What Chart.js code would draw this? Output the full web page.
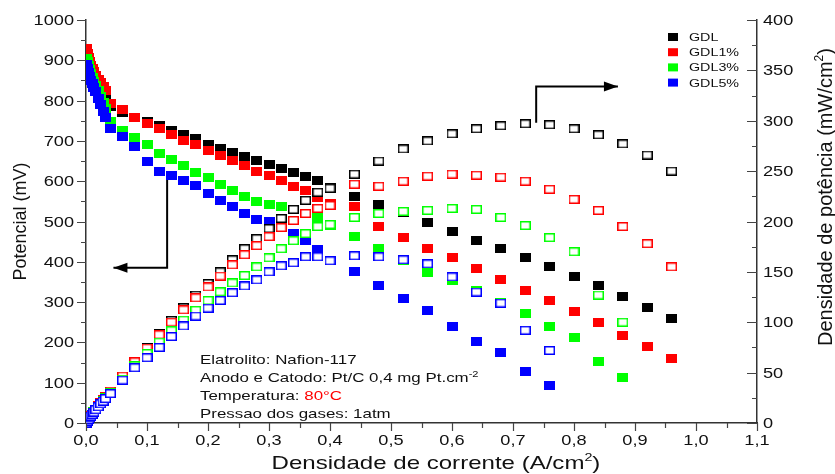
<!DOCTYPE html>
<html>
<head>
<meta charset="utf-8">
<script src="https://cdn.jsdelivr.net/npm/chart.js@4.4.0/dist/chart.umd.min.js"></script>
<style>
  html, body { margin: 0; padding: 0; background: #fff; }
  #caixa { width: 835px; height: 474px; }
</style>
</head>
<body>
<div id="caixa"><canvas id="grafico" width="835" height="474"></canvas></div>
<script>
// Densidade de corrente (A/cm2) - comum a todas as amostras
const corrente = [0, 0.002, 0.004, 0.006, 0.008, 0.010, 0.013, 0.016, 0.020, 0.024, 0.028, 0.032,
  0.04, 0.06, 0.08, 0.10, 0.12, 0.14, 0.16, 0.18, 0.20, 0.22, 0.24, 0.26, 0.28, 0.30, 0.32, 0.34, 0.36, 0.38, 0.40,
  0.44, 0.48, 0.52, 0.56, 0.60, 0.64, 0.68, 0.72, 0.76, 0.80, 0.84, 0.88, 0.92, 0.96];

// Potencial (mV)
const potGDL = [915, 905, 895, 886, 877, 869, 860, 852, 842, 832, 822, 810,
  785, 770, 758, 748, 737, 727, 715, 705, 692, 682, 671, 662, 651, 641, 631, 621, 611, 601, 585,
  562, 541, 522, 497, 476, 454, 433, 410, 388, 363, 340, 313, 287, 259];
const potGDL1 = [929, 918, 906, 896, 888, 880, 871, 863, 853, 845, 835, 824,
  793, 777, 759, 744, 730, 715, 702, 690, 675, 663, 651, 638, 625, 613, 601, 588, 576, 560, 545,
  536, 488, 460, 434, 410, 384, 357, 330, 303, 276, 249, 218, 191, 161];
const potGDL3 = [905, 896, 886, 876, 867, 858, 848, 838, 824, 810, 795, 780,
  748, 727, 709, 690, 669, 654, 638, 621, 608, 592, 576, 563, 550, 543, 536, 529, 520, 511, 491,
  462, 433, 402, 374, 353, 330, 300, 271, 240, 211, 153, 112];
const potGDL5 = [890, 880, 870, 860, 850, 842, 832, 822, 805, 790, 772, 757,
  731, 710, 686, 648, 625, 613, 602, 590, 570, 553, 538, 521, 505, 500, 487, 470, 454, 431, 402,
  376, 342, 310, 280, 240, 203, 174, 128, 92];

// Densidade de potencia (mW/cm2)
const densGDL = [0, 1.8, 3.6, 5.3, 7.0, 8.7, 11.2, 13.6, 16.8, 20.0, 23.0, 25.9,
  31.4, 46.2, 60.6, 74.8, 88.4, 101.8, 114.4, 126.9, 138.4, 150.0, 162, 173, 183, 193, 203, 212, 221, 229, 233,
  247, 260, 272, 280, 287, 292, 295, 297, 296, 292, 286, 277, 266, 250];
const densGDL1 = [0, 1.8, 3.6, 5.4, 7.1, 8.8, 11.3, 13.8, 17.1, 20.3, 23.4, 26.4,
  31.7, 46.6, 60.7, 74.4, 87.6, 100.1, 112.3, 124.2, 135.0, 145.9, 157, 167, 176, 185, 194, 201, 208, 213, 216,
  237, 235, 240, 245, 247, 246, 244, 240, 232, 222, 211, 195, 178, 155];
const densGDL3 = [0, 1.8, 3.5, 5.3, 6.9, 8.6, 11.0, 13.4, 16.5, 19.4, 22.3, 25.0,
  29.9, 43.6, 56.7, 69.0, 80.3, 91.6, 102.1, 111.8, 121.6, 130.2, 139, 146.4, 155, 164, 173, 181, 188, 195, 197,
  204, 208, 210, 211, 213, 212, 204, 196, 184, 170, 127, 100];
const densGDL5 = [0, 1.8, 3.5, 5.2, 6.8, 8.4, 10.8, 13.2, 16.1, 19.0, 21.6, 24.2,
  29.2, 42.6, 54.9, 64.8, 75.0, 85.8, 96.3, 106.2, 114.0, 121.7, 129.3, 136, 142, 150, 156, 159, 165, 165, 161,
  166, 165, 162, 158, 145, 130, 119, 92, 72];

const amostras = ['GDL', 'GDL1%', 'GDL3%', 'GDL5%'];
const cores = ['#000000', '#ff0000', '#00ff00', '#0000ff'];

// Marcas dos eixos
const ticksCorrente = [0, 0.1, 0.2, 0.3, 0.4, 0.5, 0.6, 0.7, 0.8, 0.9, 1.0, 1.1];
const rotulosCorrente = ['0,0', '0,1', '0,2', '0,3', '0,4', '0,5', '0,6', '0,7', '0,8', '0,9', '1,0', '1,1'];
const ticksPotencial = [0, 100, 200, 300, 400, 500, 600, 700, 800, 900, 1000];
const ticksDensidade = [0, 50, 100, 150, 200, 250, 300, 350, 400];

const ESTICAR = 1.3; // o texto da figura original aparece esticado na horizontal
const FONTE = '"Liberation Sans", Arial, sans-serif';

function pontos(ys) {
  return ys.map((y, i) => ({ x: corrente[i], y: y }));
}

// marcador quadrado (cheio ou vazado) desenhado num canvas pequeno
function marcador(cor, cheio) {
  const c = document.createElement('canvas');
  c.width = 11; c.height = 9;
  const g = c.getContext('2d');
  if (cheio) {
    g.fillStyle = cor;
    g.fillRect(0, 0, 11, 9);
  } else {
    g.fillStyle = '#ffffff';
    g.fillRect(0, 0, 11, 9);
    g.strokeStyle = cor;
    g.lineWidth = 1.5;
    g.strokeRect(0.75, 0.75, 9.5, 7.5);
  }
  return c;
}

// escreve pedacos de texto (com sobrescrito) a partir de uma linha de base
function escreve(ctx, partes, x, y, alinhamento, girar) {
  ctx.save();
  ctx.translate(x, y);
  if (girar) ctx.rotate(-Math.PI / 2); else ctx.scale(ESTICAR, 1);
  let largura = 0;
  for (const p of partes) { ctx.font = p.tam + 'px ' + FONTE; largura += ctx.measureText(p.t).width; }
  let cx = alinhamento === 'center' ? -largura / 2 : (alinhamento === 'right' ? -largura : 0);
  ctx.textBaseline = 'alphabetic';
  ctx.textAlign = 'left';
  for (const p of partes) {
    ctx.font = p.tam + 'px ' + FONTE;
    ctx.fillStyle = p.cor || '#111';
    ctx.fillText(p.t, cx, -(p.sobe || 0));
    cx += ctx.measureText(p.t).width;
  }
  ctx.restore();
}

function seta(ctx, pts, tamanho) {
  ctx.beginPath();
  ctx.moveTo(pts[0][0], pts[0][1]);
  for (let i = 1; i < pts.length; i++) ctx.lineTo(pts[i][0], pts[i][1]);
  ctx.stroke();
  const [xa, ya] = pts[pts.length - 2];
  const [xb, yb] = pts[pts.length - 1];
  const ang = Math.atan2(yb - ya, xb - xa);
  ctx.beginPath();
  ctx.moveTo(xb, yb);
  ctx.lineTo(xb - tamanho * Math.cos(ang) + 5 * Math.sin(ang), yb - tamanho * Math.sin(ang) - 5 * Math.cos(ang));
  ctx.lineTo(xb - tamanho * Math.cos(ang) - 5 * Math.sin(ang), yb - tamanho * Math.sin(ang) + 5 * Math.cos(ang));
  ctx.closePath();
  ctx.fill();
}

const desenhoExtra = {
  id: 'desenhoExtra',
  afterDraw(chart) {
    const { ctx, chartArea: a } = chart;
    const sx = chart.scales.x, sl = chart.scales.yPot, sr = chart.scales.yDens;
    ctx.save();

    // tracos das marcas (principais e secundarias)
    ctx.strokeStyle = '#444';
    ctx.lineWidth = 1.2;
    const tracos = (valores, desenha) => {
      valores.forEach((v, i) => {
        desenha(v, true);
        if (i < valores.length - 1) desenha((v + valores[i + 1]) / 2, false);
      });
    };
    ctx.beginPath();
    tracos(ticksCorrente, (v, maior) => {
      const px = Math.round(sx.getPixelForValue(v)) + 0.5;
      ctx.moveTo(px, a.bottom); ctx.lineTo(px, a.bottom + (maior ? 8 : 5));
    });
    tracos(ticksPotencial, (v, maior) => {
      const py = Math.round(sl.getPixelForValue(v)) + 0.5;
      ctx.moveTo(a.left, py); ctx.lineTo(a.left - (maior ? 9 : 5), py);
    });
    tracos(ticksDensidade, (v, maior) => {
      const py = Math.round(sr.getPixelForValue(v)) + 0.5;
      ctx.moveTo(a.right, py); ctx.lineTo(a.right - (maior ? 10 : 5), py);
    });
    ctx.stroke();

    // rotulos das marcas
    ticksCorrente.forEach((v, i) => {
      escreve(ctx, [{ t: rotulosCorrente[i], tam: 14 }], sx.getPixelForValue(v), a.bottom + 22, 'center');
    });
    ticksPotencial.forEach(v => {
      escreve(ctx, [{ t: String(v), tam: 14 }], a.left - 12, sl.getPixelForValue(v) + 5, 'right');
    });
    ticksDensidade.forEach(v => {
      escreve(ctx, [{ t: String(v), tam: 14 }], a.right + 6, sr.getPixelForValue(v) + 5, 'left');
    });

    // titulos dos eixos
    escreve(ctx, [{ t: 'Densidade de corrente (A/cm', tam: 18.5 }, { t: '2', tam: 11, sobe: 8 }, { t: ')', tam: 18.5 }],
      436, 469, 'center');
    escreve(ctx, [{ t: 'Potencial (mV)', tam: 18 }], 26, (a.top + a.bottom) / 2, 'center', true);
    escreve(ctx, [{ t: 'Densidade de potência (mW/cm', tam: 20 }, { t: '2', tam: 12, sobe: 9 }, { t: ')', tam: 20 }],
      832, 197, 'center', true);

    // legenda
    amostras.forEach((nome, i) => {
      const yc = 37 + 15.2 * i;
      ctx.fillStyle = cores[i];
      ctx.fillRect(668, yc - 4, 10, 8);
      escreve(ctx, [{ t: nome, tam: 11 }], 689, yc + 4, 'left');
    });

    // setas indicando o eixo de cada curva
    ctx.strokeStyle = '#000';
    ctx.fillStyle = '#000';
    ctx.lineWidth = 2;
    seta(ctx, [
      [sx.getPixelForValue(0.133), sl.getPixelForValue(603)],
      [sx.getPixelForValue(0.133), sl.getPixelForValue(385)],
      [sx.getPixelForValue(0.045), sl.getPixelForValue(385)]
    ], 14);
    seta(ctx, [
      [sx.getPixelForValue(0.738), sr.getPixelForValue(298)],
      [sx.getPixelForValue(0.738), sr.getPixelForValue(334)],
      [sx.getPixelForValue(0.872), sr.getPixelForValue(334)]
    ], 14);

    // condicoes do ensaio
    const x0 = 200;
    escreve(ctx, [{ t: 'Elatrolito: Nafion-117', tam: 13 }], x0, 364, 'left');
    escreve(ctx, [{ t: 'Anodo e Catodo: Pt/C 0,4 mg Pt.cm', tam: 13 }, { t: '-2', tam: 8.5, sobe: 5 }], x0, 382, 'left');
    escreve(ctx, [{ t: 'Temperatura: ', tam: 13 }, { t: '80°C', tam: 13, cor: '#ff0000' }], x0, 400, 'left');
    escreve(ctx, [{ t: 'Pressao dos gases: 1atm', tam: 13 }], x0, 418, 'left');

    ctx.restore();
  }
};

const potenciais = [potGDL, potGDL1, potGDL3, potGDL5];
const densidades = [densGDL, densGDL1, densGDL3, densGDL5];
const recorte = { left: 0, top: 20, right: 20, bottom: 8 };

const conjuntos = [];
amostras.forEach((nome, i) => {
  conjuntos.push({
    label: nome,
    data: pontos(potenciais[i]),
    yAxisID: 'yPot',
    pointStyle: marcador(cores[i], true),
    pointRadius: 5,
    showLine: false,
    clip: recorte,
    order: 8 - i
  });
});
amostras.forEach((nome, i) => {
  conjuntos.push({
    label: nome + ' potência',
    data: pontos(densidades[i]),
    yAxisID: 'yDens',
    pointStyle: marcador(cores[i], false),
    pointRadius: 5,
    showLine: false,
    clip: recorte,
    order: 4 - i
  });
});

new Chart(document.getElementById('grafico'), {
  type: 'scatter',
  data: { datasets: conjuntos },
  options: {
    responsive: false,
    animation: false,
    events: [],
    layout: { padding: { top: 20, left: 0, right: 0, bottom: 0 } },
    plugins: { legend: { display: false }, tooltip: { enabled: false } },
    scales: {
      x: {
        type: 'linear', min: 0, max: 1.1,
        afterBuildTicks: s => { s.ticks = ticksCorrente.map(v => ({ value: v })); },
        afterFit: s => { s.height = 51; },
        ticks: { display: false },
        grid: { display: false, drawTicks: false },
        border: { display: true, color: '#333', width: 1.5 }
      },
      yPot: {
        type: 'linear', position: 'left', min: 0, max: 1000,
        afterBuildTicks: s => { s.ticks = ticksPotencial.map(v => ({ value: v })); },
        afterFit: s => { s.width = 86; },
        ticks: { display: false },
        grid: { display: false, drawTicks: false },
        border: { display: true, color: '#333', width: 1.5 }
      },
      yDens: {
        type: 'linear', position: 'right', min: 0, max: 400,
        afterBuildTicks: s => { s.ticks = ticksDensidade.map(v => ({ value: v })); },
        afterFit: s => { s.width = 78; },
        ticks: { display: false },
        grid: { display: false, drawTicks: false },
        border: { display: true, color: '#333', width: 1.5 }
      }
    }
  },
  plugins: [desenhoExtra]
});
</script>
</body>
</html>
